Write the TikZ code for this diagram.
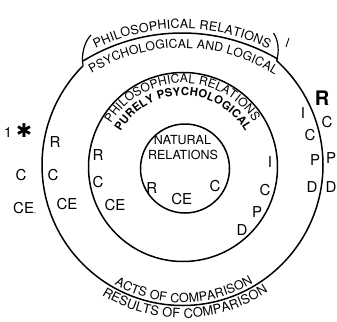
\documentclass[tikz,border=0pt]{standalone}
\usepackage{fontspec}
\setmainfont{TeX Gyre Heros}
\newfontfamily\symfont{DejaVu Sans}
\usetikzlibrary{decorations.text}
\begin{document}
\begin{tikzpicture}[x=1pt,y=1pt,
  ring/.style={line width=1.5pt},
  bracket/.style={line width=1.2pt},
  lab/.style={inner sep=0pt, text depth=0pt, font=\fontsize{15}{16}\selectfont},
  natlab/.style={inner sep=0pt, font=\fontsize{12.5}{14}\selectfont},
  curvetext/.style={decorate, decoration={text along path, text={#1}, text align=fit to path}}]
\useasboundingbox (0,0) rectangle (337,-321);
\coordinate (O) at (182.5,-165);
\coordinate (M) at (183,-167);
\coordinate (I) at (185,-168.5);
\coordinate (B) at (182,-222);
% outer circle, open at the top band
\draw[ring] ([shift={(135:140.5)}]O) arc[start angle=135, end angle=408, radius=140.5];
\coordinate (Lend) at ([shift={(135:140.5)}]O);
\coordinate (Rend) at ([shift={(48:140.5)}]O);
\coordinate (Ltop) at (91,-35);
\coordinate (Rtop) at (273.5,-33);
\draw[bracket] (Lend) .. controls (81,-56) and (84,-42) .. (Ltop);
\draw[bracket] (Rend) .. controls (279.5,-52) and (278.5,-40) .. (Rtop);
\draw[ring] ([shift={(121.5:189)}]B) arc[start angle=121.5, end angle=59.5, radius=189];
% middle and inner circles
\draw[ring] (M) circle[radius=94.5];
\draw[ring] (I) circle[radius=44.5];
% curved texts
\path[curvetext={|\fontsize{12.6}{14}\selectfont|PHILOSOPHICAL RELATIONS}]
  ([shift={(116.5:193.5)}]B) arc[start angle=116.5, end angle=63.5, radius=193.5];
\path[curvetext={|\fontsize{12.2}{14}\selectfont|PSYCHOLOGICAL AND LOGICAL}]
  ([shift={(121.3:174)}]B) arc[start angle=121.3, end angle=57.8, radius=174];
\path[curvetext={|\fontsize{12}{14}\selectfont|PHILOSOPHICAL RELATIONS}]
  ([shift={(149:84)}]M) arc[start angle=149, end angle=32.5, radius=84];
\path[curvetext={|\fontsize{11.3}{13}\selectfont\bfseries|PURELY PSYCHOLOGICAL}]
  ([shift={(150.5:71.5)}]M) arc[start angle=150.5, end angle=29.5, radius=71.5];
\path[curvetext={|\fontsize{12.5}{14}\selectfont|ACTS OF COMPARISON}]
  ([shift={(240.3:137.5)}]O) arc[start angle=240.3, end angle=300.9, radius=137.5];
\path[curvetext={|\fontsize{12.9}{14}\selectfont|RESULTS OF COMPARISON}]
  ([shift={(238.2:153)}]O) arc[start angle=238.2, end angle=304, radius=153];
% inner circle
\node[natlab] (nat) at (182.5,-140) {NATURAL};
\node[natlab] (rel) at (183,-155) {RELATIONS};
\node[lab] (iR) at (151.7,-188) {R};
\node[lab] (iCE) at (181.7,-199) {CE};
\node[lab] (iC) at (215,-186) {C};
% middle band
\node[lab] (mR) at (98,-155) {R};
\node[lab] (mC) at (98,-182) {C};
\node[lab] (mCE) at (115,-205) {CE};
\node[lab] (mI) at (270,-162) {I};
\node[lab] (mC2) at (265,-190) {C};
\node[lab] (mP) at (257,-212) {P};
\node[lab] (mD) at (242,-230) {D};
% outer band
\node[lab] (oR) at (55,-142) {R};
\node[lab] (oC) at (53,-175) {C};
\node[lab] (oCE) at (67,-204) {CE};
\node[lab] (oI) at (303,-113) {I};
\node[lab] (oC2) at (310,-135) {C};
\node[lab] (oP) at (315,-160) {P};
\node[lab] (oD) at (312,-187) {D};
% outside
\node[lab] (xC) at (21,-175) {C};
\node[lab, anchor=west] (xCE) at (13,-208) {CE{\fontsize{7}{7}\selectfont,}};
\node[inner sep=0pt, font=\fontsize{14}{14}\selectfont] (one) at (8,-133) {1};
\node[inner sep=0pt, font=\symfont\fontsize{19}{19}\selectfont\bfseries] (star) at (24,-131) {✱};
\node[inner sep=0pt, font=\fontsize{20}{20}\selectfont\bfseries] (xR) at (322,-98) {R};
\node[lab] (xC2) at (327,-122) {C};
\node[lab] (xP) at (331,-158) {P};
\node[lab] (xD) at (331,-187) {D};
\coordinate (tickA) at (286,-47);
\coordinate (tickB) at (289,-38);
\draw[line width=0.9pt] (tickA) -- (tickB);
\end{tikzpicture}
\end{document}
